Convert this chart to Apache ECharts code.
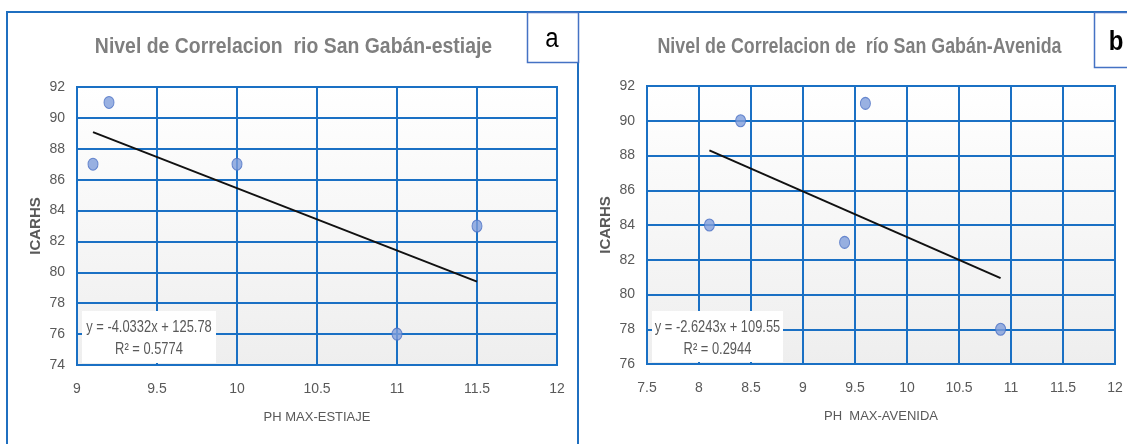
<!DOCTYPE html>
<html>
<head>
<meta charset="utf-8">
<script src="https://cdn.jsdelivr.net/npm/echarts@6/dist/echarts.min.js"></script>
<style>
  html, body { margin: 0; padding: 0; background: #ffffff; }
  #chart { width: 1127px; height: 444px; }
</style>
</head>
<body>
<div id="chart"></div>
<script>
// pH máximo vs ICARHS, río San Gabán (estiaje y avenida)
const phEstiaje = [9.1, 9.2, 10, 11, 11.5];
const icarhsEstiaje = [87, 91, 87, 76, 83];
const phAvenida = [8.1, 8.4, 9.4, 9.6, 10.9];
const icarhsAvenida = [84, 90, 83, 91, 78];

// Linear trend lines: [slope, intercept, R²]
const fitEstiaje = [-4.0332, 125.78, 0.5774];
const fitAvenida = [-2.6243, 109.55, 0.2944];

const titles = ['Nivel de Correlacion  rio San Gabán-estiaje', 'Nivel de Correlacion de  río San Gabán-Avenida'];
const xNames = ['PH MAX-ESTIAJE', 'PH  MAX-AVENIDA'];
const yName = 'ICARHS';
const panelTags = ['a', 'b'];

const FONT = '"Liberation Sans", Arial, sans-serif';
const GRID_BLUE = '#1a70c4';
const TEXT_GRAY = '#595959';

function pairs(xs, ys) { return xs.map((x, i) => [x, ys[i]]); }
function trend(xs, fit) {
  const lo = Math.min(...xs), hi = Math.max(...xs);
  return [[lo, fit[0] * lo + fit[1]], [hi, fit[0] * hi + fit[1]]];
}
function eqLine(fit) {
  const sign = fit[1] >= 0 ? '+' : '-';
  return 'y = ' + fit[0].toFixed(4) + 'x ' + sign + ' ' + Math.abs(fit[1]).toFixed(2);
}
function r2Line(fit) { return 'R² = ' + fit[2].toFixed(4); }

const plotBg = {
  type: 'linear', x: 0, y: 0, x2: 0, y2: 1,
  colorStops: [{ offset: 0, color: '#ffffff' }, { offset: 1, color: '#eeeeee' }]
};

function gridOf(left, top, width, height) {
  return { left, top, width, height, show: true, backgroundColor: plotBg, borderColor: GRID_BLUE, borderWidth: 2 };
}

function xAxisOf(idx, min, max) {
  return {
    type: 'value', gridIndex: idx, min, max, interval: 0.5,
    name: xNames[idx], nameLocation: 'middle', nameGap: 46,
    nameTextStyle: { color: TEXT_GRAY, fontFamily: FONT, fontSize: 13 },
    axisLine: { show: true, lineStyle: { color: GRID_BLUE, width: 2 } },
    axisTick: { show: false },
    axisLabel: { color: TEXT_GRAY, fontFamily: FONT, fontSize: 14, margin: 17 },
    splitLine: { show: true, lineStyle: { color: GRID_BLUE, width: 2 } }
  };
}

function yAxisOf(idx, min, max) {
  return {
    type: 'value', gridIndex: idx, min, max, interval: 2,
    name: yName, nameLocation: 'middle', nameGap: 34,
    nameTextStyle: { color: TEXT_GRAY, fontFamily: FONT, fontSize: 15, fontWeight: 'bold' },
    axisLine: { show: true, lineStyle: { color: GRID_BLUE, width: 2 } },
    axisTick: { show: false },
    axisLabel: { color: TEXT_GRAY, fontFamily: FONT, fontSize: 14, margin: 12 },
    splitLine: { show: true, lineStyle: { color: GRID_BLUE, width: 2 } }
  };
}

function scatterOf(idx, data) {
  return {
    type: 'scatter', xAxisIndex: idx, yAxisIndex: idx, data,
    symbol: 'circle', symbolSize: [10, 12], z: 4,
    itemStyle: { color: '#7f9ddb', borderColor: '#4a6fc4', borderWidth: 1 }
  };
}

function trendOf(idx, data) {
  return {
    type: 'line', xAxisIndex: idx, yAxisIndex: idx, data,
    symbol: 'none', z: 3, silent: true,
    lineStyle: { color: '#111111', width: 2 }
  };
}

// white box holding the trend equation and R²
function eqBox(x, y, w, h, fit) {
  const cx = x + w / 2;
  const txt = (t, ty) => ({
    type: 'text', z: 11, x: cx, y: ty, scaleX: 0.86, scaleY: 1.1,
    style: { text: t, fill: TEXT_GRAY, font: '15px ' + FONT, textAlign: 'center', textVerticalAlign: 'middle' }
  });
  return [
    { type: 'rect', z: 10, shape: { x, y, width: w, height: h }, style: { fill: '#ffffff', stroke: 'none' } },
    txt(eqLine(fit), y + 16),
    txt(r2Line(fit), y + 38)
  ];
}

function titleText(x, t, sx) {
  return { type: 'text', z: 6, x, y: 47, scaleX: sx, scaleY: 1.05,
    style: { text: t, fill: '#7f7f7f', font: 'bold 21px ' + FONT, textAlign: 'center', textVerticalAlign: 'middle' } };
}

const option = {
  animation: false,
  grid: [gridOf(77, 87, 480, 278), gridOf(647, 86, 468, 278)],
  xAxis: [xAxisOf(0, 9, 12), xAxisOf(1, 7.5, 12)],
  yAxis: [yAxisOf(0, 74, 92), yAxisOf(1, 76, 92)],
  series: [
    scatterOf(0, pairs(phEstiaje, icarhsEstiaje)),
    trendOf(0, trend(phEstiaje, fitEstiaje)),
    scatterOf(1, pairs(phAvenida, icarhsAvenida)),
    trendOf(1, trend(phAvenida, fitAvenida))
  ],
  graphic: [
    // panel frames
    { type: 'rect', z: 1, shape: { x: 7, y: 12, width: 571, height: 470 },
      style: { fill: 'none', stroke: '#1f6fc0', lineWidth: 2 } },
    { type: 'rect', z: 1, shape: { x: 578, y: 12, width: 580, height: 470 },
      style: { fill: 'none', stroke: '#1f6fc0', lineWidth: 2 } },
    // panel tags
    { type: 'rect', z: 5, shape: { x: 527.5, y: 12.5, width: 51, height: 50 },
      style: { fill: '#ffffff', stroke: '#4472c4', lineWidth: 1.5 } },
    { type: 'text', z: 6, x: 552, y: 39, scaleY: 1.15,
      style: { text: panelTags[0], fill: '#000000', font: '24px ' + FONT, textAlign: 'center', textVerticalAlign: 'middle' } },
    { type: 'rect', z: 5, shape: { x: 1094.5, y: 12.5, width: 50, height: 55 },
      style: { fill: '#ffffff', stroke: '#4472c4', lineWidth: 1.5 } },
    { type: 'text', z: 6, x: 1116, y: 42, scaleY: 1.15,
      style: { text: panelTags[1], fill: '#000000', font: 'bold 24px ' + FONT, textAlign: 'center', textVerticalAlign: 'middle' } },
    // titles
    titleText(293.5, titles[0], 0.925),
    titleText(859.5, titles[1], 0.85),
    // trend equations
    ...eqBox(82, 311, 134, 52, fitEstiaje),
    ...eqBox(652, 311, 131, 51, fitAvenida)
  ]
};

const chart = echarts.init(document.getElementById('chart'), null, { renderer: 'canvas' });
chart.setOption(option);
</script>
</body>
</html>
